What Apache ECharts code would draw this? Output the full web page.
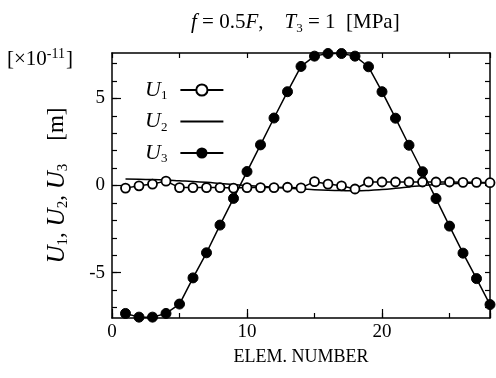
<!DOCTYPE html>
<html>
<head>
<meta charset="utf-8">
<script src="https://cdn.jsdelivr.net/npm/echarts@6/dist/echarts.min.js"></script>
<style>html,body{margin:0;padding:0;background:#fff}#c{width:496px;height:378px}</style>
</head>
<body>
<div id="c"></div>
<script>
// Element numbers
var elements = [1,2,3,4,5,6,7,8,9,10,11,12,13,14,15,16,17,18,19,20,21,22,23,24,25,26,27,28];
// U1 (open circles), x1e-11 m
var u1 = [-0.15,-0.02,0.08,0.25,-0.12,-0.12,-0.12,-0.12,-0.15,-0.12,-0.12,-0.12,-0.1,-0.14,0.22,0.08,-0.02,-0.2,0.2,0.2,0.2,0.2,0.2,0.2,0.2,0.18,0.18,0.16];
// U2 (plain line)
var u2 = [0.37,0.36,0.34,0.31,0.27,0.23,0.18,0.12,0.06,0.0,-0.05,-0.1,-0.15,-0.2,-0.24,-0.27,-0.29,-0.3,-0.28,-0.23,-0.16,-0.08,0.0,0.06,0.1,0.12,0.14,0.15];
// U3 (filled circles)
var u3 = [-7.34,-7.55,-7.55,-7.34,-6.8,-5.3,-3.86,-2.27,-0.74,0.8,2.33,3.87,5.38,6.83,7.42,7.57,7.57,7.42,6.81,5.38,3.86,2.31,0.79,-0.75,-2.33,-3.88,-5.34,-6.83];
// Tick labels
var xLabels = [0,10,20];
var yLabels = [-5,0,5];
var yMinor = [-7,-6,-5,-4,-3,-2,-1,0,1,2,3,4,5,6,7];

function pairs(v){ return elements.map(function(e,i){ return [e, v[i]]; }); }

var serif = 'Liberation Serif';
var chart = echarts.init(document.getElementById('c'));
var axisLineStyle = {color:'#000', width:1.5};
var yMin = -7.6, yMax = 7.6;

chart.setOption({
  animation:false,
  backgroundColor:'#fff',
  textStyle:{fontFamily:serif, color:'#000'},
  title:{
    text:'{i|f} = 0.5{i|F},    {i|T}{sub|3} = 1  [MPa]',
    left:186, top:4,
    textStyle:{
      fontFamily:serif, fontWeight:'normal', fontSize:21, color:'#000',
      rich:{
        i:{fontFamily:serif, fontStyle:'italic', fontSize:21, lineHeight:26},
        sub:{fontFamily:serif, fontSize:13, verticalAlign:'bottom', lineHeight:26, padding:[7,0,0,0]}
      }
    }
  },
  graphic:[{
    type:'text', left:7, top:47,
    style:{
      text:'[×10{sup|-11}]',
      fontFamily:serif, fontSize:21, fill:'#000',
      rich:{sup:{fontFamily:serif, fontSize:14, verticalAlign:'top', padding:[0,1,10,0]}}
    }
  }],
  legend:{
    orient:'vertical', left:140, top:74, itemGap:8,
    itemWidth:43, itemHeight:14, align:'right',
    data:[
      {name:'U1'},
      {name:'U2', itemStyle:{color:'rgba(0,0,0,0)', borderColor:'rgba(0,0,0,0)', borderWidth:0}},
      {name:'U3'}
    ],
    formatter:function(n){ return '{u|U}{s|'+n.slice(1)+'}'; },
    textStyle:{
      fontFamily:serif, color:'#000', padding:[0,8,0,0],
      rich:{
        u:{fontFamily:serif, fontStyle:'italic', fontSize:22, lineHeight:25},
        s:{fontFamily:serif, fontSize:13, verticalAlign:'bottom', lineHeight:25, padding:[6,0,0,0]}
      }
    }
  },
  grid:{left:112, top:53, width:378, height:265},
  xAxis:[
    {type:'value', position:'bottom', min:0, max:28, interval:5,
     axisLine:{show:true, onZero:false, lineStyle:axisLineStyle},
     axisTick:{show:true, inside:true, length:5, lineStyle:{color:'#000', width:1.2}},
     axisLabel:{customValues:xLabels, fontFamily:serif, fontSize:19, color:'#000', margin:5},
     splitLine:{show:false},
     name:'ELEM. NUMBER', nameLocation:'middle', nameGap:30,
     nameTextStyle:{fontFamily:serif, fontSize:18, color:'#000'}},
    {type:'value', position:'bottom', min:0, max:28, interval:10,
     axisLine:{show:false, onZero:false},
     axisTick:{show:true, inside:true, length:9, lineStyle:{color:'#000', width:1.2}},
     axisLabel:{show:false}, splitLine:{show:false}},
    {type:'value', position:'top', min:0, max:28, interval:5,
     axisLine:{show:true, onZero:false, lineStyle:axisLineStyle},
     axisTick:{show:true, inside:true, length:5, lineStyle:{color:'#000', width:1.2}},
     axisLabel:{show:false}, splitLine:{show:false}}
  ],
  yAxis:[
    {type:'value', position:'left', min:yMin, max:yMax,
     axisLine:{show:true, onZero:false, lineStyle:axisLineStyle},
     axisTick:{show:true, inside:true, length:5, customValues:yMinor, lineStyle:{color:'#000', width:1.2}},
     axisLabel:{customValues:yLabels, fontFamily:serif, fontSize:19, color:'#000', margin:7,
       formatter:function(v){ return String(v); }},
     splitLine:{show:false},
     name:'{u|U}{s|1}, {u|U}{s|2}, {u|U}{s|3}    [m]', nameLocation:'middle', nameGap:41, nameRotate:90,
     nameTextStyle:{fontFamily:serif, fontSize:23, color:'#000', padding:[0,0,0,0],
       rich:{
         u:{fontFamily:serif, fontStyle:'italic', fontSize:25, lineHeight:28},
         s:{fontFamily:serif, fontSize:15, verticalAlign:'bottom', lineHeight:28, padding:[7,0,0,0]}
       }}},
    {type:'value', position:'left', min:yMin, max:yMax,
     axisLine:{show:false, onZero:false},
     axisTick:{show:true, inside:true, length:9, customValues:yLabels, lineStyle:{color:'#000', width:1.2}},
     axisLabel:{show:false}, splitLine:{show:false}},
    {type:'value', position:'right', min:yMin, max:yMax,
     axisLine:{show:true, onZero:false, lineStyle:axisLineStyle},
     axisTick:{show:true, inside:true, length:5, customValues:yMinor, lineStyle:{color:'#000', width:1.2}},
     axisLabel:{show:false}, splitLine:{show:false}}
  ],
  series:[
    {name:'U2', type:'line', data:pairs(u2), smooth:true, showSymbol:false, symbol:'none',
     lineStyle:{color:'#000', width:1.5}, itemStyle:{color:'#000'}, z:2},
    {name:'U3', type:'line', data:pairs(u3), symbol:'circle', symbolSize:10, clip:false,
     lineStyle:{color:'#000', width:1.5}, itemStyle:{color:'#000', borderColor:'#000'}, z:3},
    {name:'U1', type:'line', data:pairs(u1), symbol:'circle', symbolSize:9, clip:false,
     lineStyle:{color:'#000', width:1.5}, itemStyle:{color:'#fff', borderColor:'#000', borderWidth:1.8}, z:4}
  ]
});
</script>
</body>
</html>
